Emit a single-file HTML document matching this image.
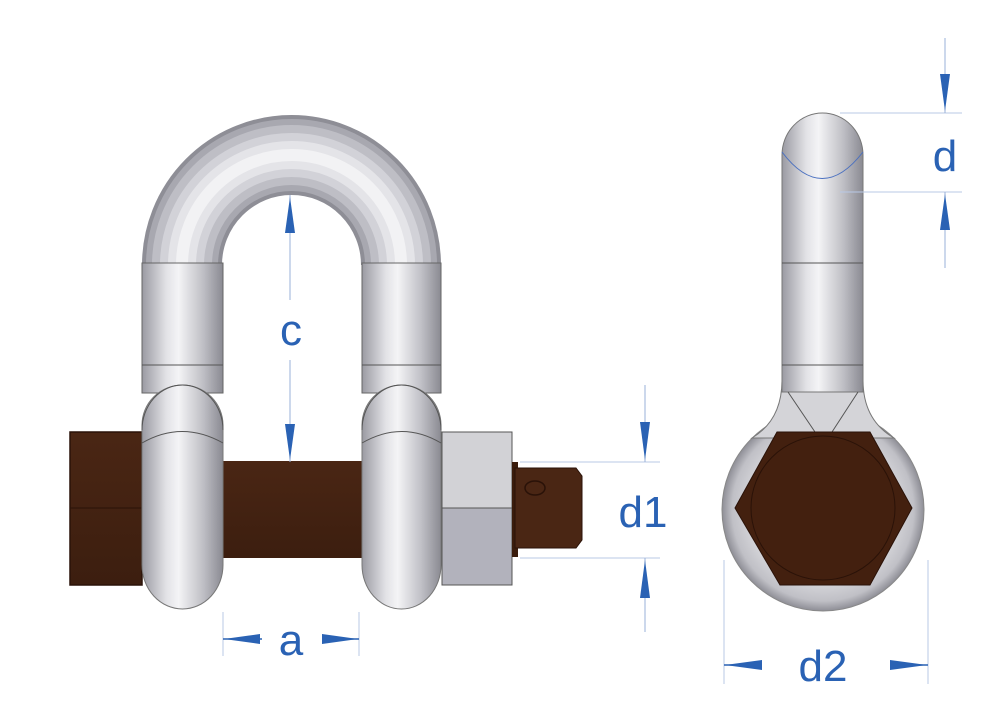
<!DOCTYPE html>
<html><head><meta charset="utf-8"><style>html,body{margin:0;padding:0;background:#fff}svg{display:block}</style></head>
<body>
<svg width="1000" height="726" viewBox="0 0 1000 726" xmlns="http://www.w3.org/2000/svg" font-family="Liberation Sans, sans-serif">
<defs>
<linearGradient id="gv" x1="0" y1="0" x2="1" y2="0">
<stop offset="0" stop-color="#9a9aa2"/><stop offset="0.3" stop-color="#e2e2e6"/><stop offset="0.45" stop-color="#f4f4f6"/><stop offset="0.75" stop-color="#c0c0c6"/><stop offset="1" stop-color="#8a8a92"/>
</linearGradient>
<radialGradient id="gr" cx="0.5" cy="0.5" r="0.5">
<stop offset="0.7" stop-color="#d8d8dc"/><stop offset="0.9" stop-color="#c0c0c6"/><stop offset="1" stop-color="#8e8e96"/>
</radialGradient>
<linearGradient id="gb" x1="0" y1="0" x2="0" y2="1"><stop offset="0" stop-color="#4a2614"/><stop offset="1" stop-color="#3c1e0f"/></linearGradient>
</defs>

<!-- arch (U) as layered tube -->
<g fill="none">
<path d="M182,265 A109.5,110 0 0 1 401,265" stroke="#8e8e96" stroke-width="80"/>
<path d="M182,265 A109.5,110 0 0 1 401,265" stroke="#a8a8b0" stroke-width="72"/>
<path d="M182,265 A109.5,110 0 0 1 401,265" stroke="#bebec5" stroke-width="60"/>
<path d="M182,265 A109.5,110 0 0 1 401,265" stroke="#d2d2d8" stroke-width="44"/>
<path d="M182,265 A109.5,110 0 0 1 401,265" stroke="#e4e4e8" stroke-width="28"/>
<path d="M182,265 A109.5,110 0 0 1 401,265" stroke="#f2f2f4" stroke-width="12"/>
</g>
<!-- legs -->
<rect x="142" y="263" width="81" height="130" fill="url(#gv)" stroke="#666" stroke-width="1"/>
<rect x="362" y="263" width="79" height="130" fill="url(#gv)" stroke="#666" stroke-width="1"/>
<line x1="142" y1="365" x2="223" y2="365" stroke="#555"/>
<line x1="362" y1="365" x2="441" y2="365" stroke="#555"/>

<!-- pin head -->
<rect x="70" y="432" width="72" height="153" fill="url(#gb)" stroke="#2a1208" stroke-width="1.5"/>
<line x1="70" y1="508" x2="142" y2="508" stroke="#2a1208"/>
<!-- shaft -->
<rect x="222" y="461" width="142" height="97" fill="url(#gb)"/>

<!-- eyes -->
<path d="M142,425 A40.5,40 0 0 1 223,425 L223,565 A40.5,44 0 0 1 142,565 Z" fill="url(#gv)" stroke="#777"/>
<path d="M362,425 A39.5,40 0 0 1 441,425 L441,565 A39.5,44 0 0 1 362,565 Z" fill="url(#gv)" stroke="#777"/>
<path d="M142,430 A40.5,45 0 0 1 223,430" fill="none" stroke="#555"/>
<path d="M142,443 Q182,420 223,443" fill="none" stroke="#555"/>
<path d="M362,430 A39.5,45 0 0 1 441,430" fill="none" stroke="#555"/>
<path d="M362,443 Q402,420 441,443" fill="none" stroke="#555"/>

<!-- nut -->
<rect x="442" y="432" width="70" height="76" fill="#d2d2d6" stroke="#555"/>
<rect x="442" y="508" width="70" height="77" fill="#b2b2bc" stroke="#555"/>
<!-- tail -->
<rect x="512" y="462" width="6" height="95" fill="#3a1c0c"/>
<path d="M515,468 L576,468 L582,476 L582,540 L576,548 L515,548 Z" fill="#4a2614" stroke="#2a1208"/>
<ellipse cx="535" cy="488" rx="10" ry="7" fill="none" stroke="#2a1208" stroke-width="1.5"/>

<!-- side view -->
<circle cx="823" cy="510" r="101" fill="url(#gr)" stroke="#888"/>
<path d="M782,380 Q782,420 752,438 L894,438 Q863,420 863,380 Z" fill="#d4d4d8" stroke="#777"/>
<path d="M782,155 A40.5,42 0 0 1 863,155 L863,392 L782,392 Z" fill="url(#gv)" stroke="#777"/>
<line x1="782" y1="263" x2="863" y2="263" stroke="#555"/>
<line x1="782" y1="365" x2="863" y2="365" stroke="#555"/>
<path d="M788,392 L815,432 M858,392 L832,432" stroke="#555" fill="none"/>
<path d="M782,152 Q822,205 863,152" fill="none" stroke="#4a70c0" stroke-width="1"/>
<polygon points="777,432 870,432 912,508 870,585 780,585 735,508" fill="#43200f" stroke="#2a1208"/>
<circle cx="823" cy="508" r="72" fill="none" stroke="#2a1208" stroke-width="1"/>

<!-- dimensions -->
<g stroke="#2a62b4" fill="#2a62b4">
<line x1="290" y1="195" x2="290" y2="300" stroke-width="1" stroke="#9ab0d8"/>
<line x1="290" y1="360" x2="290" y2="462" stroke-width="1" stroke="#9ab0d8"/>
<polygon points="290,197 285,233 295,233" stroke="none"/>
<polygon points="290,460 285,424 295,424" stroke="none"/>
<line x1="223" y1="612" x2="223" y2="656" stroke="#b8c8e6"/>
<line x1="359" y1="612" x2="359" y2="656" stroke="#b8c8e6"/>
<line x1="223" y1="639" x2="262" y2="639" stroke-width="1.5"/>
<line x1="322" y1="639" x2="359" y2="639" stroke-width="1.5"/>
<polygon points="224,639 260,634 260,644" stroke="none"/>
<polygon points="358,639 322,634 322,644" stroke="none"/>
<line x1="520" y1="462" x2="660" y2="462" stroke="#b8c8e6"/>
<line x1="520" y1="558" x2="660" y2="558" stroke="#b8c8e6"/>
<line x1="645" y1="385" x2="645" y2="462" stroke="#9ab0d8"/>
<line x1="645" y1="558" x2="645" y2="632" stroke="#9ab0d8"/>
<polygon points="645,460 640,422 650,422" stroke="none"/>
<polygon points="645,560 640,598 650,598" stroke="none"/>
<line x1="840" y1="113" x2="962" y2="113" stroke="#b8c8e6"/>
<line x1="840" y1="192" x2="962" y2="192" stroke="#b8c8e6"/>
<line x1="945" y1="38" x2="945" y2="113" stroke="#9ab0d8"/>
<line x1="945" y1="192" x2="945" y2="268" stroke="#9ab0d8"/>
<polygon points="945,111 940,74 950,74" stroke="none"/>
<polygon points="945,194 940,230 950,230" stroke="none"/>
<line x1="724" y1="560" x2="724" y2="684" stroke="#b8c8e6"/>
<line x1="928" y1="560" x2="928" y2="684" stroke="#b8c8e6"/>
<line x1="724" y1="665" x2="760" y2="665" stroke-width="1.5"/>
<line x1="890" y1="665" x2="928" y2="665" stroke-width="1.5"/>
<polygon points="725,665 762,660 762,670" stroke="none"/>
<polygon points="927,665 890,660 890,670" stroke="none"/>
</g>
<g fill="#2a62b4" font-size="44" text-anchor="middle">
<text x="291" y="345">c</text>
<text x="291" y="655">a</text>
<text x="643" y="527">d1</text>
<text x="945" y="171">d</text>
<text x="823" y="681">d2</text>
</g>
</svg>
</body></html>
